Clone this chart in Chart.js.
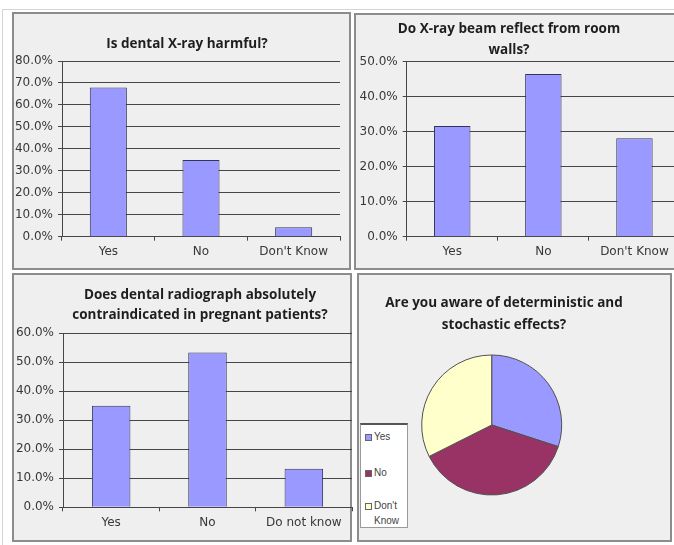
<!DOCTYPE html>
<html>
<head>
<meta charset="utf-8">
<script src="https://cdn.jsdelivr.net/npm/chart.js@4.4.1/dist/chart.umd.min.js"></script>
<style>
  html, body { margin: 0; padding: 0; background: #fff; width: 674px; height: 545px; overflow: hidden; position: relative; }
  .frame { position: absolute; left: 2px; top: 9px; width: 674px; height: 540px; border: 1px solid #d4d4d4; box-sizing: border-box; }
  .panel { position: absolute; background: #efefef; border: 2px solid #8c8c8c; box-sizing: border-box; }
  canvas { position: absolute; }
  .legend { position: absolute; left: 360px; top: 423px; width: 48px; height: 105px; background: #fff;
            border: 1px solid #9a9a9a; border-top: 2px solid #555; box-sizing: border-box;
            font: 10px "Liberation Sans", Arial, sans-serif; color: #444; }
  .legend .item { position: absolute; left: 4px; width: 40px; }
  .legend .sw { position: absolute; left: 0; top: 3px; width: 5px; height: 5px; border: 1px solid #666; }
  .legend .tx { position: absolute; left: 9px; width: 30px; line-height: 15px; top: -2px; }
</style>
</head>
<body>
<div class="frame"></div>
<div class="panel" style="left:12px;top:12px;width:339px;height:258px"></div>
<div class="panel" style="left:354px;top:13px;width:330px;height:257px"></div>
<div class="panel" style="left:12px;top:273px;width:340px;height:269px"></div>
<div class="panel" style="left:357px;top:273px;width:315px;height:269px"></div>
<canvas id="c1"></canvas>
<canvas id="c2"></canvas>
<canvas id="c3"></canvas>
<canvas id="c4"></canvas>
<div class="legend" id="pieLegend"></div>
<script>
// Survey answers, percent of respondents
const harmfulLabels = ['Yes', 'No', "Don't Know"];
const harmfulValues = [67.9, 34.9, 4.3];

const reflectLabels = ['Yes', 'No', "Don't Know"];
const reflectValues = [31.6, 46.5, 28.1];

const pregnantLabels = ['Yes', 'No', 'Do not know'];
const pregnantValues = [35.0, 53.4, 13.3];

const awareLabels = ['Yes', 'No', "Don't Know"];
const awareValues = [30.0, 37.6, 32.4];

// Axis maxima (percent) for the three bar charts
const harmfulMax = 80;
const reflectMax = 50;
const pregnantMax = 60;

const BAR_FILL = '#9999ff';
const BAR_EDGE = '#34345a';
const GRID = '#464646';
const TICK_FONT = { family: '"DejaVu Sans", sans-serif', size: 12 };
const TICK_COLOR = '#383838';
const TITLE_SIZE = 13.5;
const PIE_COLORS = ['#9999ff', '#993366', '#ffffcc'];

function pct(v) { return v.toFixed(1) + '%'; }

// Moves the title block sideways so it is centred on a chosen x
const titleShift = {
  id: 'titleShift',
  afterLayout(chart, args, opts) {
    const t = chart.titleBlock;
    if (!t || opts.cx === undefined) return;
    const dx = opts.cx - (t.left + t.right) / 2;
    t.left += dx;
    t.right += dx;
  }
};

// box: canvas rectangle on the page, plot: plot rectangle on the page,
// title: centre x, centre y of first line, line gap, text lines
function barChart(id, box, plot, title, labels, values, yMax) {
  const cv = document.getElementById(id);
  cv.style.left = box.x + 'px';
  cv.style.top = box.y + 'px';
  cv.width = box.w;
  cv.height = box.h;
  const padR = box.x + box.w - plot.r;
  const yW = plot.l - box.x;
  const xH = box.y + box.h - plot.b;
  const lines = title.text.length;
  const tTop = title.y0 - box.y - title.gap / 2;
  const tBottom = (plot.t - box.y) - tTop - lines * title.gap;

  return new Chart(cv, {
    type: 'bar',
    data: {
      labels: labels,
      datasets: [{
        data: values,
        backgroundColor: BAR_FILL,
        borderColor: BAR_EDGE,
        borderWidth: 1,
        barPercentage: 0.4,
        categoryPercentage: 1
      }]
    },
    options: {
      responsive: false,
      animation: false,
      layout: { padding: { left: 0, right: padR, top: 0, bottom: 0 } },
      plugins: {
        legend: { display: false },
        tooltip: { enabled: false },
        titleShift: { cx: title.cx - box.x },
        title: {
          display: true,
          text: title.text,
          color: '#1e1e1e',
          font: { family: '"Open Sans", sans-serif', weight: 'bold', size: TITLE_SIZE, lineHeight: title.gap / TITLE_SIZE },
          padding: { top: tTop, bottom: tBottom }
        }
      },
      scales: {
        x: {
          grid: { display: true, drawOnChartArea: false, offset: true, tickLength: 4, color: GRID },
          border: { color: GRID },
          ticks: { font: TICK_FONT, color: TICK_COLOR, padding: 4, maxRotation: 0 },
          afterFit(s) { s.height = xH; }
        },
        y: {
          min: 0,
          max: yMax,
          ticks: { stepSize: 10, callback: pct, font: TICK_FONT, color: TICK_COLOR, padding: 5 },
          grid: { color: GRID, tickLength: 4 },
          border: { color: GRID },
          afterFit(s) { s.width = yW; }
        }
      }
    },
    plugins: [titleShift]
  });
}

barChart('c1',
  { x: 12, y: 12, w: 339, h: 258 },
  { l: 62, t: 61, r: 340, b: 236.7 },
  { cx: 187, y0: 44, gap: 16, text: ['Is dental X-ray harmful?'] },
  harmfulLabels, harmfulValues, harmfulMax);

barChart('c2',
  { x: 354, y: 13, w: 330, h: 257 },
  { l: 406.7, t: 61.7, r: 680, b: 236.7 },
  { cx: 509, y0: 29, gap: 21, text: ['Do X-ray beam reflect from room', 'walls?'] },
  reflectLabels, reflectValues, reflectMax);

barChart('c3',
  { x: 12, y: 273, w: 342, h: 269 },
  { l: 63, t: 333.3, r: 352, b: 507.3 },
  { cx: 200, y0: 295, gap: 20, text: ['Does dental radiograph absolutely', 'contraindicated in pregnant patients?'] },
  pregnantLabels, pregnantValues, pregnantMax);

// Pie chart: the disc sits left of the title centre, so its area is set after layout
(function () {
  const box = { x: 357, y: 273, w: 315, h: 269 };
  const pie = { cx: 491.7, cy: 425, r: 70.5 };
  const titleCx = 504, titleY0 = 303, gap = 22;
  const cv = document.getElementById('c4');
  cv.style.left = box.x + 'px';
  cv.style.top = box.y + 'px';
  cv.width = box.w;
  cv.height = box.h;
  const tTop = titleY0 - box.y - gap / 2;

  const pieArea = {
    id: 'pieArea',
    afterLayout(chart) {
      const a = chart.chartArea;
      a.left = pie.cx - pie.r - box.x;
      a.right = pie.cx + pie.r - box.x;
      a.top = pie.cy - pie.r - box.y;
      a.bottom = pie.cy + pie.r - box.y;
      a.width = a.right - a.left;
      a.height = a.bottom - a.top;
    }
  };

  new Chart(cv, {
    type: 'pie',
    data: {
      labels: awareLabels,
      datasets: [{
        data: awareValues,
        backgroundColor: PIE_COLORS,
        borderColor: '#505050',
        borderWidth: 1
      }]
    },
    options: {
      responsive: false,
      animation: false,
      plugins: {
        legend: { display: false },
        tooltip: { enabled: false },
        titleShift: { cx: titleCx - box.x },
        title: {
          display: true,
          text: ['Are you aware of deterministic and', 'stochastic effects?'],
          color: '#1e1e1e',
          font: { family: '"Open Sans", sans-serif', weight: 'bold', size: TITLE_SIZE, lineHeight: gap / TITLE_SIZE },
          padding: { top: tTop, bottom: 4 }
        }
      }
    },
    plugins: [titleShift, pieArea]
  });

  // Legend box for the pie
  const lg = document.getElementById('pieLegend');
  const tops = [6, 42, 75];
  awareLabels.forEach((lab, i) => {
    const it = document.createElement('div');
    it.className = 'item';
    it.style.top = tops[i] + 'px';
    const sw = document.createElement('span');
    sw.className = 'sw';
    sw.style.background = PIE_COLORS[i];
    const tx = document.createElement('span');
    tx.className = 'tx';
    tx.textContent = lab;
    it.appendChild(sw);
    it.appendChild(tx);
    lg.appendChild(it);
  });
})();
</script>
</body>
</html>
